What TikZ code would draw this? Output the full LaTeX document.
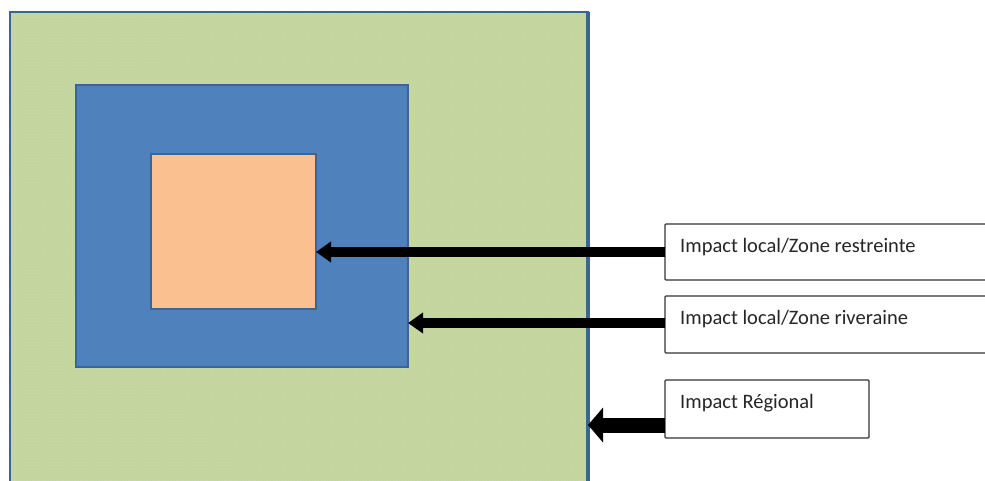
\documentclass[tikz,border=0pt]{standalone}
\usepackage{fontspec}
\setmainfont{Carlito}
\usetikzlibrary{arrows.meta,patterns}
\definecolor{greenfill}{HTML}{C3D69B}
\definecolor{bluefill}{HTML}{4F81BD}
\definecolor{blueedge}{HTML}{3A6595}
\definecolor{orangefill}{HTML}{FAC090}
\definecolor{txt}{HTML}{262626}
\tikzset{
  zone/.style={draw=blueedge, line width=1.5pt, inner sep=0pt, outer sep=0pt, anchor=north west},
  label box/.style={draw=black!80, line width=1.2pt, fill=white, inner sep=0pt, outer sep=0pt, anchor=north west,
    rounded corners=1pt},
  lbl/.style={anchor=base west, inner sep=0pt, text=txt, font=\fontsize{20.5}{24}\selectfont},
  bigarrow/.style={line width=10pt, -{Triangle[length=15pt,width=20pt]}},
  hugearrow/.style={line width=15pt, -{Triangle[length=15pt,width=34pt]}}
}
\begin{document}
\begin{tikzpicture}[x=1pt,y=-1pt]
\useasboundingbox (0,0) rectangle (985,480);
\node[zone, fill=greenfill, minimum width=578pt, minimum height=480pt] (green) at (10,12) {};
\fill[pattern=dots, pattern color=black!15] (11,13) rectangle (587,490);
\draw[blueedge, line width=3.5pt] (green.north east) -- ++(0,480);
\node[zone, fill=bluefill, minimum width=332pt, minimum height=282pt] (blue) at (76,85) {};
\node[zone, fill=orangefill, minimum width=165pt, minimum height=155pt] (orange) at (151,154) {};
\node[label box, minimum width=330pt, minimum height=56pt] (b1) at (665,224) {};
\node[label box, minimum width=330pt, minimum height=57pt] (b2) at (665,296) {};
\node[label box, minimum width=204pt, minimum height=58pt] (b3) at (665,380) {};
\node[lbl] (t1) at (680,252) {Impact local/Zone restreinte};
\node[lbl] (t2) at (680,324) {Impact local/Zone riveraine};
\node[lbl] (t3) at (680,408) {Impact Régional};
\coordinate (y3) at (0,425);
\draw[bigarrow] (b1.west) -- (orange.east |- b1.west);
\draw[bigarrow] ([yshift=1.5pt]b2.west) -- ([yshift=1.5pt]blue.east |- b2.west);
\draw[hugearrow] (b3.west |- y3) -- (green.east |- y3);
\end{tikzpicture}
\end{document}
